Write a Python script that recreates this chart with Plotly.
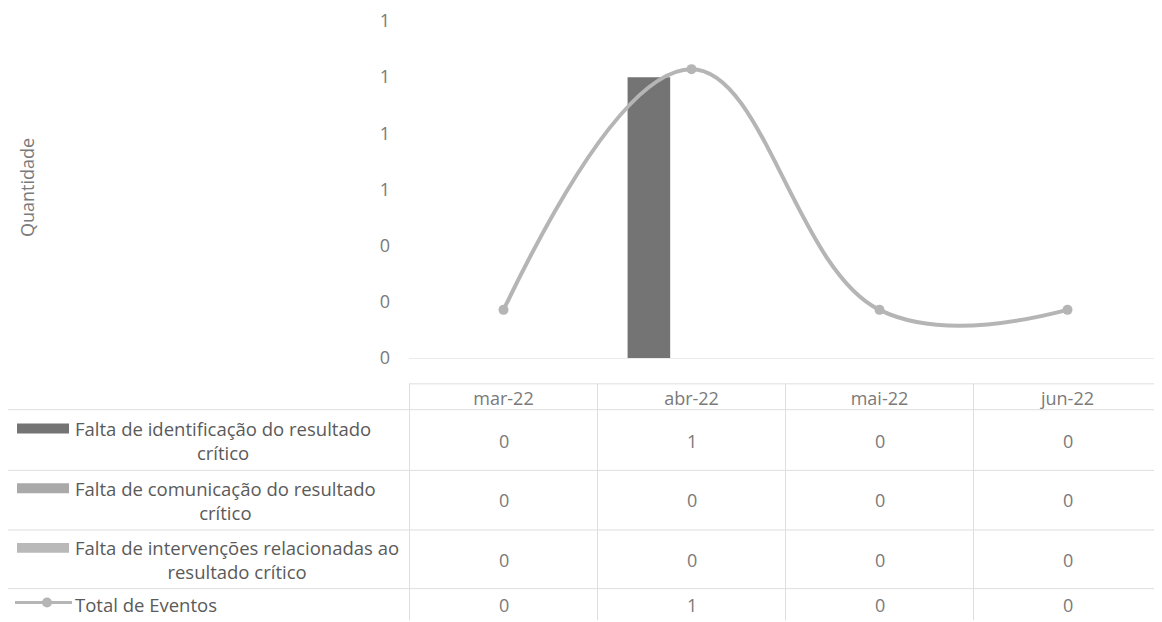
import plotly.graph_objects as go

# dados
meses = ["mar-22", "abr-22", "mai-22", "jun-22"]
series = [
    "Falta de identificação do resultado<br>crítico",
    "Falta de comunicação do resultado<br>crítico",
    "Falta de intervenções relacionadas ao<br>resultado crítico",
]
falta_identificacao = [0, 1, 0, 0]
falta_comunicacao = [0, 0, 0, 0]
falta_intervencoes = [0, 0, 0, 0]
total_eventos = [0, 1, 0, 0]

bar_colors = ["#747474", "#a9a9a9", "#b9b9b9"]
line_color = "#b5b5b5"
txt = "#5a5a5a"
num = "#7a7a7a"
grid = "#dedede"
FONT = "Open Sans"
FS = 18

# the page body has an 8px margin, so the figure is drawn 8px smaller
OFF = 8
W, H = 1162 - OFF, 622 - OFF
PL, PR, PT, PB = 409, 1162, 19, 358   # plot area in screen pixels


def py(p):
    return (PB - p) / (PB - PT)


def px_(p):
    return (p - PL) / (PR - PL)


fig = go.Figure()
for name, vals, col in zip(series, [falta_identificacao, falta_comunicacao, falta_intervencoes], bar_colors):
    fig.add_trace(go.Bar(x=meses, y=vals, name=name, marker_color=col, marker_line_width=0))

fig.add_trace(go.Scatter(x=meses, y=total_eventos, name="Total de Eventos", yaxis="y2",
                         mode="lines+markers",
                         line=dict(color=line_color, width=4, shape="spline", smoothing=1.15),
                         marker=dict(size=10, color=line_color)))

fig.update_layout(
    width=W, height=H,
    margin=dict(l=PL - OFF, r=1162 - PR, t=PT - OFF, b=622 - PB),
    plot_bgcolor="white", paper_bgcolor="white",
    barmode="group", bargap=0.32, bargroupgap=0,
    showlegend=False,
    font=dict(family=FONT, size=FS, color=txt),
    xaxis=dict(showgrid=False, zeroline=False, showline=True, linecolor="#ebebeb",
               ticks="", ticklabelstandoff=24, tickfont=dict(size=FS, color=num)),
    yaxis=dict(range=[0, 1.2000001], dtick=0.2, tickformat=".0f", showgrid=False, zeroline=False,
               ticklabelstandoff=18, ticklabeloverflow="allow", tickfont=dict(size=FS, color=num)),
    yaxis2=dict(range=[-0.2, 1.2], overlaying="y", visible=False),
)

fig.add_annotation(text="Quantidade", xref="paper", yref="paper", x=px_(27), y=py(187),
                   xanchor="center", yanchor="middle", textangle=-90, showarrow=False,
                   font=dict(size=FS, color=num))

# tabela de dados
row_centers = [441, 501, 561, 606]
shapes = []
shapes.append(dict(type="line", xref="paper", yref="paper", x0=0, x1=1, y0=py(384), y1=py(384),
                   line=dict(color=grid, width=1)))
for yl in [410, 471, 531, 590]:
    shapes.append(dict(type="line", xref="paper", yref="paper", x0=px_(5), x1=1, y0=py(yl), y1=py(yl),
                       line=dict(color=grid, width=1)))
shapes.append(dict(type="line", xref="paper", yref="paper", x0=px_(5), x1=px_(5), y0=py(410), y1=py(622),
                   line=dict(color=grid, width=1)))
for i in range(len(meses) + 1):
    shapes.append(dict(type="line", xref="x", yref="paper", x0=i - 0.5, x1=i - 0.5, y0=py(384), y1=py(622),
                       line=dict(color=grid, width=1)))

table_rows = [falta_identificacao, falta_comunicacao, falta_intervencoes, total_eventos]
for r, vals in enumerate(table_rows):
    for m, v in zip(meses, vals):
        fig.add_annotation(text=str(v), xref="x", yref="paper", x=m, y=py(row_centers[r]),
                           xanchor="center", yanchor="middle", showarrow=False,
                           font=dict(size=FS, color=num))

for r, name in enumerate(series):
    fig.add_annotation(text=name, xref="paper", yref="paper", x=px_(73), y=py(row_centers[r]),
                       xanchor="left", yanchor="middle", showarrow=False, align="center",
                       font=dict(size=18.5, color=txt))
    yc = row_centers[r] - 12
    shapes.append(dict(type="rect", xref="paper", yref="paper", x0=px_(17), x1=px_(69),
                       y0=py(yc + 5), y1=py(yc - 5), fillcolor=bar_colors[r], line_width=0))

fig.add_annotation(text="Total de Eventos", xref="paper", yref="paper", x=px_(73), y=py(row_centers[3]),
                   xanchor="left", yanchor="middle", showarrow=False, font=dict(size=18.5, color=txt))
shapes.append(dict(type="line", xref="paper", yref="paper", x0=px_(15), x1=px_(72),
                   y0=py(604), y1=py(604), line=dict(color=line_color, width=3)))
shapes.append(dict(type="circle", xref="paper", yref="paper", x0=px_(42), x1=px_(52),
                   y0=py(609), y1=py(599), fillcolor=line_color, line_width=0))

fig.update_layout(shapes=shapes)
fig.write_html("out.html")
